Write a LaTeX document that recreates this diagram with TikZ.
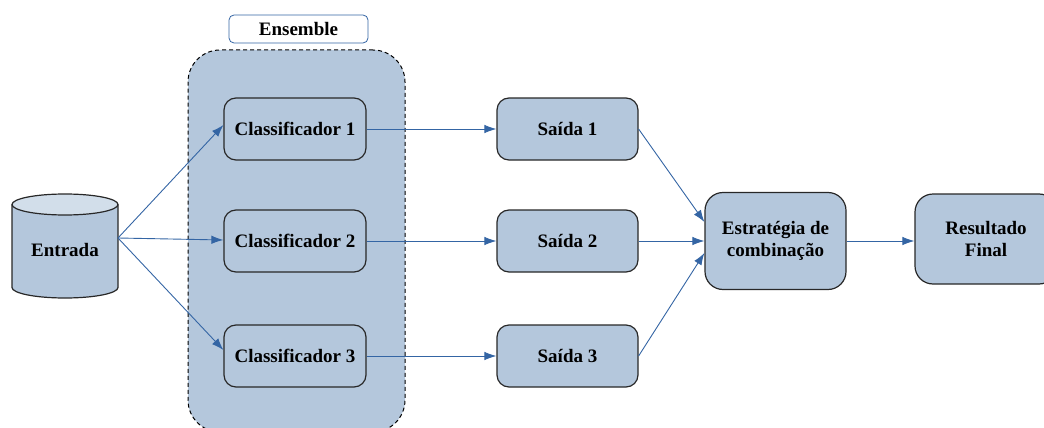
\documentclass[tikz,border=0pt]{standalone}
\usepackage{fontspec}
\setmainfont{Liberation Serif}
\usetikzlibrary{arrows.meta}
\definecolor{boxfill}{RGB}{180,199,220}
\definecolor{topfill}{RGB}{210,222,234}
\definecolor{arrowblue}{RGB}{52,101,164}
\definecolor{edgecol}{RGB}{40,40,40}
\begin{document}
\begin{tikzpicture}[x=1pt,y=-1pt,
  font=\bfseries\fontsize{19}{22}\selectfont,
  box/.style={draw=edgecol, line width=1.2pt, fill=boxfill, rounded corners=12pt,
    minimum width=142pt, minimum height=62pt, align=center, inner sep=0pt},
  bigbox/.style={box, rounded corners=18pt},
  conn/.style={draw=arrowblue, line width=0.9pt, -{Latex[length=12pt,width=8.5pt]}}]
\useasboundingbox (0,0) rectangle (1044,428);
% ensemble container
\node[draw=black, line width=1pt, dash pattern=on 4pt off 3pt, fill=boxfill,
  rounded corners=32pt, minimum width=217pt, minimum height=382pt] (ens) at (296.5,241) {};
\node[draw=arrowblue, line width=0.8pt, fill=white, rounded corners=5pt,
  minimum width=139pt, minimum height=28pt, inner sep=0pt] (enslabel) at (298.5,29) {Ensemble};
% cylinder
\fill[boxfill] (12,204.5) -- (12,287.5) arc[start angle=180,end angle=360,x radius=53pt,y radius=10.5pt] -- (118,204.5) -- cycle;
\draw[edgecol, line width=1.2pt] (12,204.5) -- (12,287.5) arc[start angle=180,end angle=360,x radius=53pt,y radius=10.5pt] -- (118,204.5);
\draw[edgecol, line width=1.2pt, fill=topfill] (65,204.5) ellipse [x radius=53pt, y radius=10.5pt];
\node (entrada) at (65,250) {Entrada};
\coordinate (eout) at (118,238);
% classifiers
\node[box] (c1) at (295,129) {Classificador 1};
\node[box] (c2) at (295,241) {Classificador 2};
\node[box] (c3) at (295,356) {Classificador 3};
% outputs
\node[box, minimum width=141pt] (s1) at (567.5,129) {Saída 1};
\node[box, minimum width=141pt] (s2) at (567.5,241) {Saída 2};
\node[box, minimum width=141pt] (s3) at (567.5,356) {Saída 3};
% combination
\node[bigbox, minimum width=141pt, minimum height=97pt] (est) at (775.5,241) {Estratégia de\\combinação};
\node[bigbox, minimum width=142pt, minimum height=90pt] (res) at (986,239) {Resultado\\Final};
% connectors
\draw[conn] (eout) -- ([yshift=4pt]c1.west);
\draw[conn] (eout) -- ([yshift=1pt]c2.west);
\draw[conn] (eout) -- ([yshift=6pt]c3.west);
\draw[conn] (c1.east) -- (s1.west);
\draw[conn] (c2.east) -- (s2.west);
\draw[conn] (c3.east) -- (s3.west);
\draw[conn] (s1.east) -- ([yshift=19pt]est.west);
\draw[conn] (s2.east) -- (est.west);
\draw[conn] (s3.east) -- ([yshift=-12pt]est.west);
\draw[conn] (est.east) -- (est.east -| res.west);
\end{tikzpicture}
\end{document}
